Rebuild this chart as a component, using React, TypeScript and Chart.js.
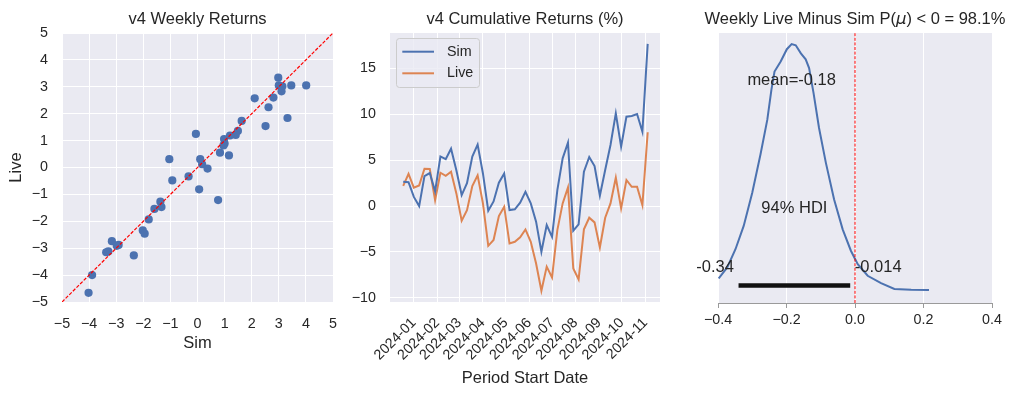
import React, { useEffect, useRef } from "react";
import { Chart, registerables } from "chart.js";

Chart.register(...registerables);

// ---------- shared look ----------
const FONT = "'Liberation Sans', Arial, sans-serif";
const TEXT = "#262626";
const BG = "#EAEAF2";
const BLUE = "#4C72B0";
const ORANGE = "#DD8452";
const TICK_SIZE = 14.3;
const LABEL_SIZE = 16.5;

// ---------- panel 1: weekly returns scatter ----------
const weeklySim = [
  2.98, 3.0, 3.13, 3.46, 4.01, 3.1, 2.8, 2.11, 2.62, 3.32, 2.51, 1.63, 1.49, 1.41, 1.2,
  0.98, 1.0, 0.96, -0.06, 0.83, 1.16, 0.1, 0.17, 0.37, -1.04, -0.33, -0.93, 0.06, 0.76,
  -1.37, -1.33, -1.59, -1.8, -2.02, -1.95, -3.16, -2.91, -2.98, -3.37, -3.29, -2.35, -3.89, -4.02,
];
const weeklyLive = [
  3.34, 3.05, 3.02, 3.05, 3.05, 2.83, 2.6, 2.57, 2.24, 1.84, 1.54, 1.73, 1.36, 1.21, 1.19,
  1.06, 0.89, 0.82, 1.25, 0.55, 0.45, 0.31, 0.12, -0.04, 0.31, -0.33, -0.48, -0.81, -1.21,
  -1.27, -1.47, -1.54, -1.93, -2.34, -2.46, -2.74, -2.88, -2.91, -3.15, -3.12, -3.27, -4.0, -4.66,
];
const identityLine = [-5, 5];
const scatterRange = [-5, 5];

// ---------- panel 2: cumulative returns ----------
const weekDates = [
  "2023-12-18", "2023-12-25", "2024-01-01", "2024-01-08", "2024-01-15", "2024-01-22", "2024-01-29",
  "2024-02-05", "2024-02-12", "2024-02-19", "2024-02-26", "2024-03-04", "2024-03-11", "2024-03-18",
  "2024-03-25", "2024-04-01", "2024-04-08", "2024-04-15", "2024-04-22", "2024-04-29", "2024-05-06",
  "2024-05-13", "2024-05-20", "2024-05-27", "2024-06-03", "2024-06-10", "2024-06-17", "2024-06-24",
  "2024-07-01", "2024-07-08", "2024-07-15", "2024-07-22", "2024-07-29", "2024-08-05", "2024-08-12",
  "2024-08-19", "2024-08-26", "2024-09-02", "2024-09-09", "2024-09-16", "2024-09-23", "2024-09-30",
  "2024-10-07", "2024-10-14", "2024-10-21", "2024-10-28", "2024-11-04",
];
const simCumulative = [
  2.65, 2.6, 1.0, 0.0, 3.27, 3.6, 1.6, 5.4, 5.1, 6.25, 3.9, 1.2, 2.5, 5.4, 6.7, 3.55, -0.5,
  0.5, 2.55, 3.55, -0.44, -0.35, 0.36, 1.56, 0.29, -1.7, -4.98, -2.07, -3.35, 1.74, 5.2, 6.9,
  -2.69, -2.0, 3.74, 5.34, 4.36, 1.13, 3.93, 6.65, 10.1, 6.47, 9.74, 9.81, 10.03, 8.1, 17.67,
];
const liveCumulative = [
  2.2, 3.5, 2.0, 2.25, 4.07, 4.03, 0.65, 3.63, 3.3, 3.74, 1.38, -1.6, -0.44, 2.18, 3.35, 0.29,
  -4.33, -3.7, -1.09, -0.07, -4.07, -3.89, -3.4, -2.55, -3.89, -6.25, -9.23, -6.6, -7.78, -2.62,
  0.29, 2.04, -6.8, -8.0, -2.54, -1.27, -1.78, -4.51, -1.27, 0.29, 3.09, -0.25, 2.84, 2.1, 2.1,
  0.11, 8.04,
];
const seriesNames = ["Sim", "Live"];
const monthLabels = [
  "2024-01", "2024-02", "2024-03", "2024-04", "2024-05", "2024-06", "2024-07", "2024-08",
  "2024-09", "2024-10", "2024-11",
];
const dateRange = ["2023-12-01", "2024-11-20"]; // approx axis limits (dates)
const cumRange = [-10.45, 18.85];
const cumTickStep = 5;

// ---------- panel 3: posterior ----------
const kdeX = [
  -0.398, -0.373, -0.349, -0.325, -0.3, -0.276, -0.256, -0.244, -0.235, -0.217, -0.199, -0.185,
  -0.173, -0.158, -0.144, -0.134, -0.121, -0.105, -0.085, -0.061, -0.036, -0.012, 0.008, 0.037,
  0.076, 0.115, 0.164, 0.216,
];
const kdeY = [
  0.05, 0.095, 0.169, 0.264, 0.399, 0.555, 0.697, 0.819, 0.893, 0.934, 0.984, 1.005, 1.0,
  0.967, 0.943, 0.907, 0.805, 0.663, 0.521, 0.372, 0.25, 0.163, 0.108, 0.061, 0.031, 0.007,
  0.004, 0.003,
];
const hdiLow = -0.34;
const hdiHigh = -0.014;
const meanValue = -0.185;
const meanLabel = "mean=-0.18";
const hdiLabel = "94% HDI";
const hdiLowLabel = "-0.34";
const hdiHighLabel = "-0.014";
const refValue = 0;
const probTitle = ["Weekly Live Minus Sim P(", "\u03bc", ") < 0 = 98.1%"];
const posteriorRange = [-0.4, 0.4];
const densityRange = [-0.05, 1.05];

// ---------- helpers ----------
const fmtSigned = (v: number, digits: number) => {
  const s = Math.abs(v).toFixed(digits);
  return v < -1e-9 ? "\u2212" + s : s;
};
const dayOf = (d: string) => (Date.parse(d) - Date.parse("2024-01-01")) / 86400000;
const tickFont = { family: FONT, size: TICK_SIZE };
const labelFont = { family: FONT, size: LABEL_SIZE };

const bgPlugin = {
  id: "panelBg",
  beforeDraw(chart: any) {
    const { left, top, width, height } = chart.chartArea;
    const ctx = chart.ctx;
    ctx.save();
    ctx.fillStyle = BG;
    ctx.fillRect(left, top, width, height);
    ctx.restore();
  },
};

const makeTitle = (parts: { text: string; font: string }[]) => ({
  id: "panelTitle",
  afterDraw(chart: any) {
    const ctx = chart.ctx;
    const { left, right } = chart.chartArea;
    ctx.save();
    ctx.fillStyle = TEXT;
    ctx.textBaseline = "alphabetic";
    ctx.textAlign = "left";
    let total = 0;
    const widths = parts.map((p) => {
      ctx.font = p.font;
      const w = ctx.measureText(p.text).width;
      total += w;
      return w;
    });
    let x = (left + right) / 2 - total / 2;
    parts.forEach((p, i) => {
      ctx.font = p.font;
      ctx.fillText(p.text, x, 24);
      x += widths[i];
    });
    ctx.restore();
  },
});

const titleFont = `${LABEL_SIZE}px ${FONT}`;

function scatterConfig(): any {
  return {
    type: "scatter",
    data: {
      datasets: [
        {
          data: identityLine.map((v) => ({ x: v, y: v })),
          showLine: true,
          borderColor: "#ff0000",
          borderWidth: 1.2,
          borderDash: [3.5, 1.6],
          pointRadius: 0,
        },
        {
          data: weeklySim.map((x, i) => ({ x, y: weeklyLive[i] })),
          backgroundColor: BLUE,
          borderWidth: 0,
          pointRadius: 4.1,
        },
      ],
    },
    options: {
      animation: false,
      responsive: false,
      devicePixelRatio: 1,
      layout: { padding: { top: 33, right: 16, left: 0, bottom: 0 } },
      plugins: { legend: { display: false }, tooltip: { enabled: false } },
      scales: {
        x: {
          type: "linear",
          min: scatterRange[0],
          max: scatterRange[1],
          ticks: { stepSize: 1, padding: 13, font: tickFont, color: TEXT, callback: (v: number) => fmtSigned(v, 0) },
          grid: { color: "#ffffff", lineWidth: 1, drawTicks: false },
          border: { display: false },
          title: { display: true, text: "Sim", font: labelFont, color: TEXT, padding: { top: 0, bottom: 44 } },
          afterFit: (s: any) => {
            s.height = 95;
          },
        },
        y: {
          type: "linear",
          min: scatterRange[0],
          max: scatterRange[1],
          ticks: { stepSize: 1, padding: 14, font: tickFont, color: TEXT, callback: (v: number) => fmtSigned(v, 0) },
          grid: { color: "#ffffff", lineWidth: 1, drawTicks: false },
          border: { display: false },
          title: { display: true, text: "Live", font: labelFont, color: TEXT, padding: { top: 6.4, bottom: 0 } },
          afterFit: (s: any) => {
            s.width = 62;
          },
        },
      },
    },
    plugins: [bgPlugin, makeTitle([{ text: "v4 Weekly Returns", font: titleFont }])],
  };
}

const legendPlugin = {
  id: "cumLegend",
  afterDraw(chart: any) {
    const ctx = chart.ctx;
    const { left, top } = chart.chartArea;
    const colors = [BLUE, ORANGE];
    ctx.save();
    ctx.beginPath();
    ctx.roundRect(left + 6.5, top + 5.5, 83, 49, 3);
    ctx.fillStyle = "rgba(234,234,242,0.8)";
    ctx.fill();
    ctx.strokeStyle = "#cccccc";
    ctx.lineWidth = 1;
    ctx.stroke();
    seriesNames.forEach((name, i) => {
      const yy = top + 18.7 + i * 21.6;
      ctx.beginPath();
      ctx.moveTo(left + 12.3, yy);
      ctx.lineTo(left + 44, yy);
      ctx.strokeStyle = colors[i];
      ctx.lineWidth = 2;
      ctx.stroke();
      ctx.fillStyle = TEXT;
      ctx.font = `${TICK_SIZE}px ${FONT}`;
      ctx.textBaseline = "middle";
      ctx.textAlign = "left";
      ctx.fillText(name, left + 57, yy);
    });
    ctx.restore();
  },
};

function cumulativeConfig(): any {
  const monthValues = monthLabels.map((m) => dayOf(m + "-01"));
  return {
    type: "line",
    data: {
      datasets: [
        {
          label: seriesNames[0],
          data: weekDates.map((d, i) => ({ x: dayOf(d), y: simCumulative[i] })),
          borderColor: BLUE,
          borderWidth: 2,
          pointRadius: 0,
          tension: 0,
        },
        {
          label: seriesNames[1],
          data: weekDates.map((d, i) => ({ x: dayOf(d), y: liveCumulative[i] })),
          borderColor: ORANGE,
          borderWidth: 2,
          pointRadius: 0,
          tension: 0,
        },
      ],
    },
    options: {
      animation: false,
      responsive: false,
      devicePixelRatio: 1,
      layout: { padding: { top: 33, right: 20, left: 0, bottom: 0 } },
      plugins: { legend: { display: false }, tooltip: { enabled: false } },
      scales: {
        x: {
          type: "linear",
          min: dayOf(dateRange[0]) - 0.4,
          max: dayOf(dateRange[1]) + 0.2,
          afterBuildTicks: (s: any) => {
            s.ticks = monthValues.map((v) => ({ value: v }));
          },
          ticks: {
            autoSkip: false,
            minRotation: 45,
            maxRotation: 45,
            padding: 12.5,
            font: tickFont,
            color: TEXT,
            callback: (_v: number, i: number) => monthLabels[i],
          },
          grid: { color: "#ffffff", lineWidth: 1, drawTicks: false },
          border: { display: false },
          title: { display: true, text: "Period Start Date", font: labelFont, color: TEXT, padding: { top: 0, bottom: 9.1 } },
          afterFit: (s: any) => {
            s.height = 95;
          },
        },
        y: {
          type: "linear",
          min: cumRange[0],
          max: cumRange[1],
          ticks: {
            stepSize: cumTickStep,
            includeBounds: false,
            padding: 14,
            font: tickFont,
            color: TEXT,
            callback: (v: number) => fmtSigned(v, 0),
          },
          grid: { color: "#ffffff", lineWidth: 1, drawTicks: false },
          border: { display: false },
          afterFit: (s: any) => {
            s.width = 40;
          },
        },
      },
    },
    plugins: [bgPlugin, legendPlugin, makeTitle([{ text: "v4 Cumulative Returns (%)", font: titleFont }])],
  };
}

const posteriorText = {
  id: "posteriorText",
  afterDatasetsDraw(chart: any) {
    const ctx = chart.ctx;
    const xs = chart.scales.x;
    const ys = chart.scales.y;
    ctx.save();
    ctx.fillStyle = TEXT;
    ctx.font = `${LABEL_SIZE}px ${FONT}`;
    ctx.textBaseline = "alphabetic";
    ctx.textAlign = "center";
    ctx.fillText(meanLabel, xs.getPixelForValue(meanValue), ys.getPixelForValue(0.84));
    ctx.fillText(hdiLabel, xs.getPixelForValue((hdiLow + hdiHigh) / 2), ys.getPixelForValue(0.315));
    ctx.textAlign = "right";
    ctx.fillText(hdiLowLabel + " ", xs.getPixelForValue(hdiLow), ys.getPixelForValue(0.0747));
    ctx.textAlign = "left";
    ctx.fillText(" " + hdiHighLabel, xs.getPixelForValue(hdiHigh), ys.getPixelForValue(0.0747));
    ctx.restore();
  },
};

function posteriorConfig(): any {
  return {
    type: "scatter",
    data: {
      datasets: [
        {
          data: [
            { x: refValue, y: densityRange[0] },
            { x: refValue, y: densityRange[1] },
          ],
          showLine: true,
          borderColor: "#ff0000",
          borderWidth: 1,
          borderDash: [3, 1.6],
          pointRadius: 0,
        },
        {
          data: [
            { x: hdiLow, y: 0.021 },
            { x: hdiHigh, y: 0.021 },
          ],
          showLine: true,
          borderColor: "#111111",
          borderWidth: 4.5,
          borderCapStyle: "butt",
          pointRadius: 0,
        },
        {
          data: kdeX.map((x, i) => ({ x, y: kdeY[i] })),
          showLine: true,
          borderColor: BLUE,
          borderWidth: 2,
          pointRadius: 0,
          tension: 0,
        },
      ],
    },
    options: {
      animation: false,
      responsive: false,
      devicePixelRatio: 1,
      layout: { padding: { top: 33, right: 24, left: 38, bottom: 0 } },
      plugins: { legend: { display: false }, tooltip: { enabled: false } },
      scales: {
        x: {
          type: "linear",
          min: posteriorRange[0],
          max: posteriorRange[1],
          ticks: { stepSize: 0.2, padding: 3.7, font: tickFont, color: TEXT, callback: (v: number) => fmtSigned(v, 1) },
          grid: { color: "#ffffff", lineWidth: 1, drawTicks: true, tickLength: 5, tickColor: "#9a9a9a", tickWidth: 1 },
          border: { display: true, color: "#9a9a9a", width: 1 },
          afterFit: (s: any) => {
            s.height = 94;
          },
        },
        y: {
          type: "linear",
          display: false,
          min: densityRange[0],
          max: densityRange[1],
        },
      },
    },
    plugins: [
      bgPlugin,
      posteriorText,
      makeTitle([
        { text: probTitle[0], font: titleFont },
        { text: probTitle[1], font: `italic ${LABEL_SIZE}px 'DejaVu Sans'` },
        { text: probTitle[2], font: titleFont },
      ]),
    ],
  };
}

export default function App() {
  const r1 = useRef<HTMLCanvasElement>(null);
  const r2 = useRef<HTMLCanvasElement>(null);
  const r3 = useRef<HTMLCanvasElement>(null);

  useEffect(() => {
    const charts = [
      new Chart(r1.current as HTMLCanvasElement, scatterConfig()),
      new Chart(r2.current as HTMLCanvasElement, cumulativeConfig()),
      new Chart(r3.current as HTMLCanvasElement, posteriorConfig()),
    ];
    return () => charts.forEach((c) => c.destroy());
  }, []);

  return (
    <div style={{ position: "absolute", left: 0, top: 0, width: 1016, height: 397, background: "#ffffff" }}>
      <canvas ref={r1} width={350} height={397} style={{ position: "absolute", left: 0, top: 0 }} />
      <canvas ref={r2} width={330} height={397} style={{ position: "absolute", left: 350, top: 0 }} />
      <canvas ref={r3} width={336} height={397} style={{ position: "absolute", left: 680, top: 0 }} />
    </div>
  );
}
